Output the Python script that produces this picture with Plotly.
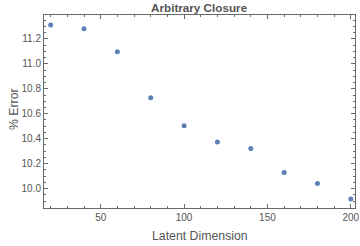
import plotly.graph_objects as go

latent_dim = [20, 40, 60, 80, 100, 120, 140, 160, 180, 200]
pct_error = [11.312, 11.282, 11.097, 10.728, 10.503, 10.374, 10.321, 10.128, 10.040, 9.916]

x_tickvals = [50, 100, 150, 200]
y_tickvals = [10.0, 10.2, 10.4, 10.6, 10.8, 11.0, 11.2]
y_ticktext = ["10.0", "10.2", "10.4", "10.6", "10.8", "11.0", "11.2"]

frame_color = "#6a6a6a"
text_color = "#555555"
font_family = "Liberation Sans, Arial, sans-serif"

fig = go.Figure()
fig.add_trace(go.Scatter(
    x=latent_dim, y=pct_error, mode="markers",
    marker=dict(color="#5E81B5", size=5),
    showlegend=False, hoverinfo="skip", cliponaxis=False,
))

fig.update_layout(
    width=360, height=246,
    margin=dict(l=44, r=5, t=15, b=38, autoexpand=False),
    paper_bgcolor="white", plot_bgcolor="white",
    font=dict(family=font_family, color=text_color, size=10),
    title=dict(text="<b>Arbitrary Closure</b>", x=0.553, xanchor="center",
               y=0.968, yanchor="middle", yref="container",
               font=dict(size=11.7, color=text_color, family=font_family)),
    annotations=[
        dict(text="Latent Dimension", xref="paper", yref="paper", x=0.5, y=-0.145,
             xanchor="center", yanchor="middle", showarrow=False,
             font=dict(size=12.3, color=text_color)),
        dict(text="% Error", xref="paper", yref="paper", x=-0.098, y=0.51,
             xanchor="center", yanchor="middle", showarrow=False, textangle=-90,
             font=dict(size=12.3, color=text_color)),
    ],
)

fig.update_xaxes(
    range=[16, 202.5], showgrid=False, zeroline=False, automargin=False,
    showline=True, linecolor=frame_color, linewidth=1, mirror="ticks",
    ticks="inside", ticklen=4, tickcolor=frame_color, tickwidth=1,
    tickvals=x_tickvals, ticklabeloverflow="allow",
    minor=dict(dtick=10, tick0=0, ticks="inside", ticklen=2, tickcolor=frame_color, showgrid=False),
    tickfont=dict(size=10, color=text_color),
)
fig.update_yaxes(
    range=[9.844, 11.392], showgrid=False, zeroline=False, automargin=False,
    showline=True, linecolor=frame_color, linewidth=1, mirror="ticks",
    ticks="inside", ticklen=4, tickcolor=frame_color, tickwidth=1,
    tickvals=y_tickvals, ticktext=y_ticktext, ticklabeloverflow="allow",
    minor=dict(dtick=0.05, tick0=0, ticks="inside", ticklen=2, tickcolor=frame_color, showgrid=False),
    tickfont=dict(size=10, color=text_color),
)

fig.write_html("out.html", config={"displayModeBar": False},
               post_script="document.body.style.margin='0';document.body.style.overflow='hidden';")
